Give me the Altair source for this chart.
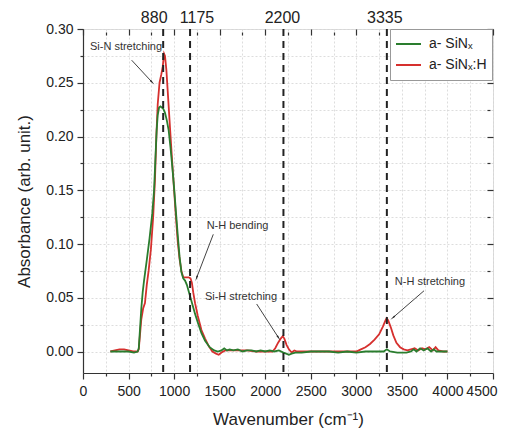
import math
import altair as alt
import pandas as pd

# ---------------- data ----------------
series_names = ["a- SiNₓ", "a- SiNₓ:H"]
series_colors = ["#2a7d2e", "#d6302e"]

green_x = [300, 400, 500, 560, 600, 612, 625, 640, 655, 670, 700, 730, 760, 780, 795,
           808, 820, 835, 850, 865, 880, 900, 920, 940, 960, 980, 1000, 1020, 1040, 1060,
           1080, 1100, 1120, 1140, 1160, 1180, 1200, 1230, 1260, 1300, 1340, 1390, 1440, 1480, 1520,
           1550, 1580, 1610, 1650, 1700, 1750, 1800, 1850, 1900, 1950, 2000, 2050, 2100, 2150, 2200,
           2230, 2260, 2290, 2330, 2400, 2500, 2600, 2700, 2800, 2900, 3000, 3100, 3200, 3300, 3335,
           3370, 3450, 3550, 3600, 3630, 3660, 3700, 3740, 3780, 3820, 3850, 3880, 3920, 3960, 4000]
green_y = [0.000, 0.000, 0.000, -0.001, 0.000, 0.003, 0.020, 0.040, 0.055, 0.066, 0.085, 0.105, 0.128, 0.150, 0.180,
           0.205, 0.220, 0.227, 0.228, 0.227, 0.226, 0.222, 0.215, 0.206, 0.190, 0.172, 0.152, 0.130, 0.108, 0.088,
           0.074, 0.068, 0.066, 0.062, 0.056, 0.050, 0.044, 0.035, 0.027, 0.017, 0.010, 0.004, 0.001, 0.000, 0.001,
           0.003, 0.001, 0.002, 0.001, 0.002, 0.000, 0.001, 0.001, 0.000, 0.001, 0.000, 0.001, 0.000, 0.001, -0.001,
           -0.002, -0.003, -0.002, -0.001, -0.001, 0.000, 0.000, 0.000, -0.001, 0.000, -0.001, 0.000, 0.000, 0.000, 0.002,
           0.000, -0.001, -0.001, 0.000, 0.002, 0.000, 0.003, 0.001, 0.003, 0.000, 0.002, 0.000, 0.000, 0.000, 0.000]

red_x = [300, 350, 400, 450, 500, 550, 600, 612, 625, 640, 660, 680, 700, 720, 745,
         770, 790, 805, 820, 840, 860, 875, 890, 900, 915, 930, 955, 980, 1000, 1020,
         1040, 1060, 1080, 1100, 1130, 1160, 1180, 1195, 1210, 1230, 1260, 1300, 1340, 1380, 1420,
         1460, 1490, 1520, 1560, 1620, 1700, 1800, 1900, 2000, 2080, 2110, 2140, 2170, 2192, 2210,
         2235, 2260, 2290, 2320, 2350, 2500, 2700, 2900, 3000, 3050, 3100, 3150, 3200, 3250, 3290,
         3320, 3333, 3350, 3380, 3406, 3440, 3480, 3520, 3560, 3600, 3640, 3680, 3720, 3760, 3800,
         3840, 3870, 3900, 3950, 4000]
red_y = [0.000, 0.001, 0.002, 0.002, 0.001, 0.000, 0.000, 0.002, 0.015, 0.030, 0.040, 0.045, 0.062, 0.075, 0.095,
         0.125, 0.160, 0.200, 0.230, 0.250, 0.258, 0.265, 0.277, 0.275, 0.262, 0.242, 0.208, 0.175, 0.150, 0.125,
         0.102, 0.086, 0.075, 0.069, 0.069, 0.069, 0.068, 0.064, 0.055, 0.045, 0.033, 0.020, 0.012, 0.005, 0.000,
         -0.002, -0.003, -0.001, 0.001, 0.001, 0.001, 0.001, 0.000, 0.000, 0.000, 0.003, 0.008, 0.012, 0.0142, 0.012,
         0.006, 0.002, -0.001, 0.001, 0.000, 0.000, 0.000, 0.000, 0.000, 0.002, 0.004, 0.007, 0.011, 0.016, 0.023,
         0.029, 0.031, 0.029, 0.022, 0.015, 0.008, 0.004, 0.002, 0.001, 0.002, 0.003, 0.001, 0.003, 0.002, 0.004,
         0.001, 0.004, 0.001, 0.000, 0.000]

assert len(green_x) == len(green_y) and len(red_x) == len(red_y)

peak_positions = [880, 1175, 2200, 3335]
peak_labels = ["880", "1175", "2200", "3335"]

ann_text = ["Si-N stretching", "N-H bending", "Si-H stretching", "N-H stretching"]
ann_x = [472, 1696, 1734, 3808]
ann_y = [0.2833, 0.1167, 0.0509, 0.0651]
arrow_x0 = [534, 1430, 1906, 3743]
arrow_y0 = [0.2710, 0.1090, 0.0442, 0.0565]
arrow_x1 = [754, 1248, 2143, 3406]
arrow_y1 = [0.2509, 0.0688, 0.0132, 0.0318]

x_tick_values = list(range(0, 4501, 250))
y_tick_values = [round(0.025 * i, 3) for i in range(0, 13)]

# ---------------- style ----------------
FONT = "Liberation Sans"
W, H = 410, 344
X_DOM = [0, 4500]
Y_DOM = [-0.02, 0.30]
top_label_shift = [-9, 7, -1, -2]

xs = alt.Scale(domain=X_DOM, nice=False, zero=False)
ys = alt.Scale(domain=Y_DOM, nice=False, zero=False)

x_major = "datum.value % 500 === 0"
y_major = "abs(datum.value * 20 - round(datum.value * 20)) < 0.001"

tick_x = {"condition": {"test": x_major, "value": 6}, "value": 3}
tick_y = {"condition": {"test": y_major, "value": 6}, "value": 3}

df_green = pd.DataFrame({"wn": green_x, "ab": green_y, "series": series_names[0]})
df_red = pd.DataFrame({"wn": red_x, "ab": red_y, "series": series_names[1]})

legend = alt.Legend(
    title=None, orient="none", legendX=307, legendY=0,
    symbolType="stroke", symbolSize=625, symbolStrokeWidth=2,
    labelFontSize=14, labelFont=FONT, labelColor="#222", labelOffset=7,
    strokeColor="#999", fillColor="white", padding=5, clipHeight=20, rowPadding=1,
)
color = alt.Color("series:N", scale=alt.Scale(domain=series_names, range=series_colors), legend=legend)

x_bottom = alt.Axis(
    orient="bottom", values=x_tick_values, format="d",
    labelExpr=f"{x_major} ? datum.label : ''",
    grid=True, gridColor="#d4d4d4", gridDash=[2, 2], gridWidth=0.8,
    tickSize=tick_x, tickColor="#333", tickWidth=1.2,
    domainColor="#333", domainWidth=1.2,
    labelFont=FONT, labelFontSize=14, labelColor="#222", labelPadding=5,
    labelFlush=True, labelFlushOffset=4, labelOverlap=False,
    title="Wavenumber (cm⁻¹)", titleFont=FONT, titleFontSize=17, titleFontWeight="normal",
    titleColor="#222", titlePadding=13,
)
y_left = alt.Axis(
    orient="left", values=y_tick_values,
    labelExpr=f"{y_major} ? format(datum.value, '.2f') : ''",
    grid=True, gridColor="#d4d4d4", gridDash=[2, 2], gridWidth=0.8,
    tickSize=tick_y, tickColor="#333", tickWidth=1.2,
    domainColor="#333", domainWidth=1.2,
    labelFont=FONT, labelFontSize=14, labelColor="#222", labelPadding=4,
    labelFlush=False, labelOverlap=False,
    title="Absorbance (arb. unit.)", titleFont=FONT, titleFontSize=17, titleFontWeight="normal",
    titleColor="#222", titlePadding=12,
)
x_top = alt.Axis(orient="top", values=x_tick_values, offset=-6, domain=False, labels=False,
                 grid=False, tickSize=tick_x, tickColor="#333", tickWidth=1.2, title=None)
y_right = alt.Axis(orient="right", values=y_tick_values, offset=-6, domain=False, labels=False,
                   grid=False, tickSize=tick_y, tickColor="#333", tickWidth=1.2, title=None)

line_red = alt.Chart(df_red).mark_line(strokeWidth=1.8).encode(
    x=alt.X("wn:Q", scale=xs, axis=x_bottom),
    y=alt.Y("ab:Q", scale=ys, axis=y_left),
    color=color,
)
line_green = alt.Chart(df_green).mark_line(strokeWidth=1.8).encode(
    x=alt.X("wn:Q", scale=xs, axis=None),
    y=alt.Y("ab:Q", scale=ys, axis=None),
    color=color,
)

df_peaks = pd.DataFrame({"wn": peak_positions, "label": peak_labels})
dashed = alt.Chart(df_peaks).mark_rule(color="#222", strokeWidth=2, strokeDash=[7, 5]).encode(
    x=alt.X("wn:Q", scale=xs, axis=x_top),
)

top_texts = []
for pos, lab, shift in zip(peak_positions, peak_labels, top_label_shift):
    top_texts.append(
        alt.Chart(pd.DataFrame({"wn": [pos], "label": [lab]})).mark_text(
            font=FONT, fontSize=16, color="#222", baseline="alphabetic", dx=shift, dy=0
        ).encode(
            x=alt.X("wn:Q", scale=xs, axis=None),
            y=alt.value(-6),
            text="label:N",
        )
    )

df_ann = pd.DataFrame({"x": ann_x, "y": ann_y, "t": ann_text})
ann = alt.Chart(df_ann).mark_text(font=FONT, fontSize=11, color="#333", baseline="middle").encode(
    x=alt.X("x:Q", scale=xs, axis=None),
    y=alt.Y("y:Q", scale=ys, axis=y_right),
    text="t:N",
)

sx = W / (X_DOM[1] - X_DOM[0])
sy = H / (Y_DOM[1] - Y_DOM[0])
angles = []
for a0, b0, a1, b1 in zip(arrow_x0, arrow_y0, arrow_x1, arrow_y1):
    dxp = (a1 - a0) * sx
    dyp = -(b1 - b0) * sy
    angles.append(math.degrees(math.atan2(dxp, -dyp)) % 360)

df_arr = pd.DataFrame({"x0": arrow_x0, "y0": arrow_y0, "x1": arrow_x1, "y1": arrow_y1, "ang": angles})
arrows = alt.Chart(df_arr).mark_rule(color="#444", strokeWidth=1).encode(
    x=alt.X("x0:Q", scale=xs, axis=None),
    y=alt.Y("y0:Q", scale=ys, axis=None),
    x2="x1:Q",
    y2="y1:Q",
)
heads = alt.Chart(df_arr).mark_point(shape="wedge", filled=True, color="#222", size=45, opacity=1).encode(
    x=alt.X("x1:Q", scale=xs, axis=None),
    y=alt.Y("y1:Q", scale=ys, axis=None),
    angle=alt.Angle("ang:Q", scale=None),
)

chart = alt.layer(
    line_red, line_green, dashed, *top_texts, ann, arrows, heads
).resolve_axis(
    x="independent", y="independent"
).properties(
    width=W, height=H,
    autosize=alt.AutoSizeParams(type="none"),
    padding={"left": 75, "top": 21, "right": 7, "bottom": 55},
).configure_view(
    stroke="#333", strokeWidth=1.2
).configure(background="white")

chart.save("out.html", embed_options={"renderer": "svg", "actions": False})
